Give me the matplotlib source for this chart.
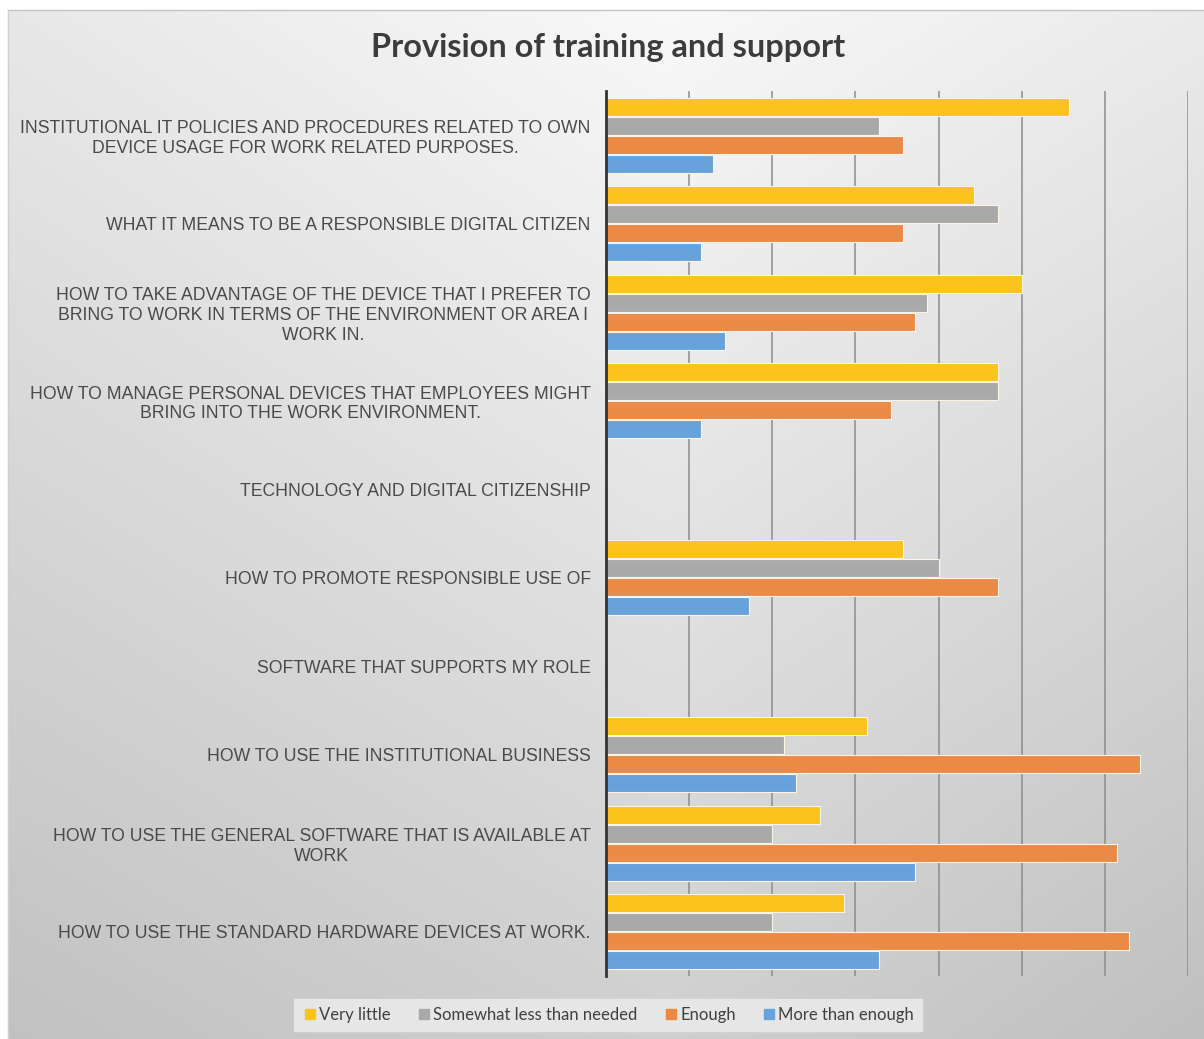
import numpy as np
import matplotlib
matplotlib.use("Agg")
import matplotlib.pyplot as plt
from matplotlib.lines import Line2D

# Survey categories, top to bottom
categories = [
    "INSTITUTIONAL IT POLICIES AND PROCEDURES RELATED TO OWN\nDEVICE USAGE FOR WORK RELATED PURPOSES.",
    "WHAT IT MEANS TO BE A RESPONSIBLE DIGITAL CITIZEN",
    "HOW TO TAKE ADVANTAGE OF THE DEVICE THAT I PREFER TO\nBRING TO WORK IN TERMS OF THE ENVIRONMENT OR AREA I\nWORK IN.",
    "HOW TO MANAGE PERSONAL DEVICES THAT EMPLOYEES MIGHT\nBRING INTO THE WORK ENVIRONMENT.",
    "TECHNOLOGY AND DIGITAL CITIZENSHIP",
    "HOW TO PROMOTE RESPONSIBLE USE OF",
    "SOFTWARE THAT SUPPORTS MY ROLE",
    "HOW TO USE THE INSTITUTIONAL BUSINESS",
    "HOW TO USE THE GENERAL SOFTWARE THAT IS AVAILABLE AT\nWORK",
    "HOW TO USE THE STANDARD HARDWARE DEVICES AT WORK.",
]

series_names = ["Very little", "Somewhat less than needed", "Enough", "More than enough"]

very_little = [39, 31, 35, 33, 0, 25, 0, 22, 18, 20]
somewhat_less = [23, 33, 27, 33, 0, 28, 0, 15, 14, 14]
enough = [25, 25, 26, 24, 0, 33, 0, 45, 43, 44]
more_than_enough = [9, 8, 10, 8, 0, 12, 0, 16, 26, 23]

colors = ["#FBC31C", "#A9A9A9", "#EB8A47", "#67A2DA"]

W, H = 1204, 1039
fig = plt.figure(figsize=(W / 100, H / 100), dpi=100, facecolor="white")

# Shaded chart background
bg = fig.add_axes([8 / W, 0, 1 - 8 / W, 1 - 10 / H])
bg.set_axis_off()
yy, xx = np.mgrid[0:1:300j, 0:1:300j]
shade = 0.975 - 0.15 * yy - 0.06 * np.abs(xx - 0.55) * 2 - 0.02 * xx * yy
shade = np.clip(shade, 0, 1)
bg.imshow(np.dstack([shade] * 3), extent=[0, 1, 0, 1], origin="upper",
          aspect="auto", interpolation="bilinear")
bg.set_xlim(0, 1)
bg.set_ylim(0, 1)
fig.add_artist(Line2D([8 / W, 1], [1 - 10 / H, 1 - 10 / H], color="#c4c4c4", lw=1))
fig.add_artist(Line2D([8 / W, 8 / W], [0, 1 - 10 / H], color="#d0d0d0", lw=1))

# Plot area
left, right = 606 / W, 1188 / W
top, bottom = 1 - 91 / H, 1 - 976 / H
ax = fig.add_axes([left, bottom, right - left, top - bottom])
ax.set_facecolor("none")

n = len(categories)
y = np.arange(n)
step = 0.215
offsets = np.array([-1.5, -0.5, 0.5, 1.5]) * step
all_series = [very_little, somewhat_less, enough, more_than_enough]
for vals, off, col in zip(all_series, offsets, colors):
    vals = np.array(vals, dtype=float)
    mask = vals > 0
    ax.barh(y[mask] + off, vals[mask], height=0.205, color=col,
            edgecolor="#fdf3e6", linewidth=0.8, zorder=3)

ax.set_xlim(0, 49)
ax.set_ylim(n - 0.5, -0.5)
ax.set_xticks(np.arange(7, 50, 7))
ax.xaxis.grid(True, color="#8c8c8c", linewidth=1.1, zorder=0)
ax.tick_params(axis="x", length=0, labelbottom=False)
ax.set_yticks(y)
ax.set_yticklabels(categories, fontsize=12.7, color="#4a4a4a",
                   family="Liberation Sans", multialignment="center",
                   linespacing=1.2)
ax.tick_params(axis="y", length=0, pad=11)
for s in ["top", "right", "bottom"]:
    ax.spines[s].set_visible(False)
ax.spines["left"].set_color("#333333")
ax.spines["left"].set_linewidth(2)
ax.spines["left"].set_zorder(4)

# Title
fig.text(608 / W, 1 - 47 / H, "Provision of training and support",
         ha="center", va="center", fontsize=23.4, fontweight="bold",
         family="Lato", color="#3c3c3c")

# Legend
handles = [Line2D([], [], marker="s", linestyle="none", markersize=6.5,
                  markerfacecolor=c, markeredgecolor=c) for c in colors]
leg = fig.legend(handles, series_names, loc="center",
                 bbox_to_anchor=(608 / W, 1 - 1015 / H), ncol=4,
                 frameon=True, fancybox=False, framealpha=1,
                 handletextpad=0.05, columnspacing=1.5, handlelength=1.0,
                 borderpad=0.5,
                 prop={"family": "Lato", "size": 12.0})
leg.get_frame().set_facecolor("#e6e6e6")
leg.get_frame().set_edgecolor("#e6e6e6")
for t in leg.get_texts():
    t.set_color("#404040")

fig.savefig("out.png", dpi=100, facecolor="white")
